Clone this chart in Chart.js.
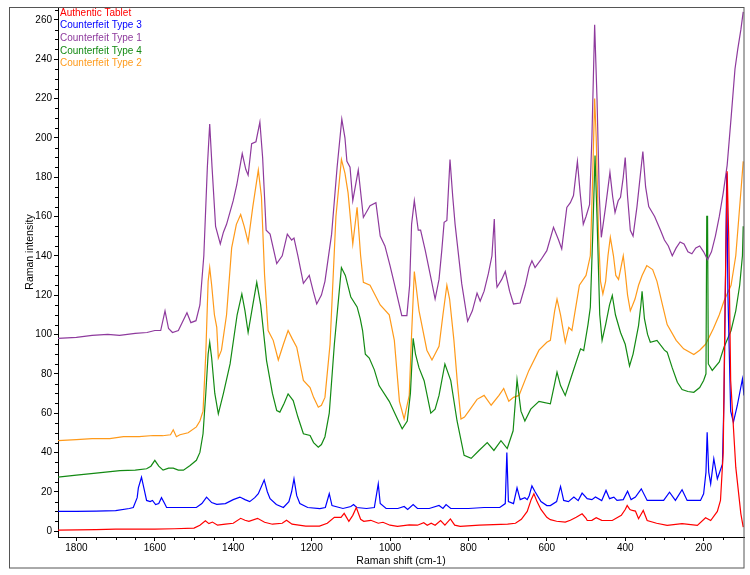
<!DOCTYPE html>
<html>
<head>
<meta charset="utf-8">
<script src="https://cdn.jsdelivr.net/npm/chart.js@4"></script>
<style>
html, body { margin: 0; padding: 0; background: #fff; }
#wrap { width: 750px; height: 575px; position: relative; }
</style>
</head>
<body>
<div id="wrap"><canvas id="raman_chart"></canvas></div>
<script>
// spectra as [Raman shift (cm-1), intensity]
const authentic = [
    [1847, 0.5], [1750, 0.8], [1700, 1], [1600, 1], [1550, 1.2], [1500, 1.5], [1485, 3], [1471, 5.2],
    [1462, 3.8], [1453, 4.6], [1440, 3], [1420, 3.5], [1400, 4], [1381, 6.5], [1370, 5.5], [1360, 5],
    [1338, 6.5], [1320, 4.5], [1300, 3.5], [1275, 4], [1264, 5.5], [1250, 3.5], [1215, 2.5], [1180, 2.5],
    [1160, 4], [1142, 7], [1125, 7], [1117, 9], [1105, 5], [1095, 8], [1086, 12], [1075, 6], [1067, 5],
    [1049, 5.5], [1030, 4], [1018, 4.5], [1000, 3], [981, 2.4], [951, 3.2], [930, 3], [914, 4.3], [905, 3],
    [895, 4], [885, 3], [871, 5.4], [860, 3], [846, 6.2], [835, 3], [821, 2.4], [772, 3], [700, 3.5],
    [680, 4], [665, 6], [650, 10], [640, 16], [633, 19], [625, 15], [615, 11], [600, 7], [591, 5.8],
    [575, 5], [553, 4.6], [540, 5.5], [525, 7], [510, 8.8], [500, 6.5], [497, 5.4], [485, 5.5], [474, 6.8],
    [460, 5.5], [433, 5.4], [410, 8], [400, 11], [395, 13], [388, 11], [382, 10.5], [374, 10.2], [366, 6.3],
    [354, 10.5], [344, 5.4], [320, 4], [293, 2.9], [255, 3.8], [216, 2.9], [195, 6.8], [182, 5.4], [165, 10],
    [157, 15.6], [150, 40], [145, 120], [140, 183], [136, 150], [131, 76.6], [118, 32.5], [105, 8.8], [99, 2]
];

const type3 = [
    [1847, 10], [1800, 10], [1750, 10.2], [1700, 10.4], [1665, 11.5], [1655, 12], [1645, 17], [1642, 22],
    [1634, 27.4], [1628, 22], [1621, 15.6], [1612, 15], [1606, 15.6], [1598, 13.5], [1590, 14], [1583, 17],
    [1575, 14], [1570, 12], [1530, 12], [1494, 12], [1480, 14], [1468, 17.3], [1455, 14.5], [1442, 13.6],
    [1420, 14], [1400, 16], [1383, 17.3], [1370, 16], [1358, 15], [1345, 17], [1336, 19], [1321, 26],
    [1313, 20], [1306, 16.5], [1290, 13.5], [1272, 12], [1258, 15], [1251, 20], [1245, 26.6], [1238, 18],
    [1230, 14], [1210, 12], [1179, 11.4], [1165, 12], [1155, 19], [1148, 13], [1120, 11.5], [1100, 12.5],
    [1093, 13.5], [1085, 12], [1060, 11.5], [1040, 12], [1030, 24], [1025, 14], [1010, 11.5], [980, 11.5],
    [964, 12.5], [955, 11], [941, 13.5], [930, 11.5], [900, 11.5], [875, 13], [865, 11.5], [857, 13.5],
    [845, 11.5], [800, 11.5], [760, 12], [720, 12], [706, 14], [702, 40], [698, 15], [685, 14], [676, 22],
    [668, 16], [656, 17], [650, 16], [645, 18], [638, 23], [630, 20], [615, 15], [600, 13], [591, 13],
    [575, 15], [565, 22.7], [557, 15.6], [545, 15], [531, 17.3], [520, 15.5], [510, 19.3], [497, 16.5],
    [485, 16], [476, 17.3], [460, 15.5], [449, 20.7], [440, 16.5], [429, 17.3], [421, 15.6], [405, 16],
    [394, 20.3], [385, 16], [374, 17.3], [359, 21.5], [344, 15.6], [320, 15.6], [302, 15.6], [287, 19.8],
    [272, 15.6], [255, 21], [242, 15.6], [220, 15.6], [208, 15.6], [200, 19], [194, 30], [191, 50.3],
    [187, 30], [182, 24], [174, 36.8], [165, 26.6], [152, 34], [148, 68], [144, 130], [141, 182],
    [138, 120], [131, 61], [124, 55.4], [114, 64], [101, 77.4], [97, 69]
];

const type1 = [
    [1847, 98], [1800, 98.5], [1760, 99.5], [1720, 100], [1690, 99.5], [1650, 100.5], [1620, 101],
    [1600, 102], [1585, 102], [1574, 112], [1565, 103], [1555, 101], [1540, 102], [1518, 111], [1508, 106],
    [1495, 107], [1485, 115], [1475, 140], [1466, 185], [1460, 207], [1454, 185], [1445, 155], [1433, 146],
    [1425, 152], [1417, 156], [1400, 168], [1391, 176], [1377, 192], [1368, 184], [1362, 181], [1353, 197],
    [1342, 198], [1332, 208], [1325, 190], [1316, 153], [1306, 151], [1289, 136], [1275, 140], [1262, 151],
    [1251, 148], [1245, 149], [1235, 140], [1221, 126], [1206, 130], [1196, 122], [1187, 115.5], [1175, 120],
    [1166, 127], [1149, 151], [1135, 185], [1123, 209.5], [1115, 200], [1110, 188], [1102, 185], [1095, 168],
    [1081, 183.6], [1068, 159.5], [1051, 165.5], [1036, 167], [1025, 150], [1013, 145], [1000, 135],
    [991, 127.5], [970, 109.6], [957, 109.6], [950, 125], [945, 156], [938, 168], [928, 153], [922, 153],
    [910, 142.6], [895, 128], [885, 118], [875, 128], [868, 142.6], [862, 157], [855, 158], [847, 189],
    [840, 170], [834, 156], [817, 125.7], [802, 106.7], [790, 112], [778, 121], [770, 117], [760, 122],
    [749, 131], [740, 140], [734, 158.7], [729, 128], [727, 124], [715, 128], [706, 132], [695, 122],
    [685, 115.5], [668, 116], [655, 125], [645, 134], [638, 137.5], [630, 134], [615, 138], [600, 142.6],
    [583, 154.5], [570, 148], [562, 143.5], [549, 164.6], [540, 167], [532, 170.6], [522, 188], [515, 172],
    [507, 156], [500, 160], [491, 166], [485, 200], [478, 257.5], [472, 220], [466, 170], [461, 149.4],
    [450, 165], [439, 182.4], [432, 170], [426, 162], [418, 168], [412, 169.7], [405, 180], [400, 190],
    [394, 170], [387, 153], [380, 150], [370, 165], [362, 180], [355, 193], [348, 175], [340, 165],
    [325, 160], [310, 153], [300, 148], [290, 145], [280, 140], [270, 144], [260, 147], [250, 146],
    [240, 142], [230, 141], [220, 144], [210, 145], [200, 142], [190, 138], [180, 142], [170, 150],
    [160, 160], [150, 172], [140, 186], [130, 210], [120, 235], [113, 245], [105, 255], [99, 264]
];

const type4 = [
    [1847, 27.4], [1800, 28.5], [1750, 29.5], [1689, 30.8], [1650, 31], [1621, 31.7], [1610, 33], [1600, 36],
    [1590, 33], [1579, 31], [1565, 32], [1553, 32], [1540, 31], [1527, 31], [1510, 33.4], [1494, 36],
    [1485, 40], [1477, 49.5], [1470, 70], [1464, 90], [1460, 96], [1455, 88], [1447, 70], [1438, 59.6],
    [1425, 70], [1408, 85], [1390, 110], [1378, 120.6], [1370, 112], [1362, 101], [1350, 115], [1340, 126.5],
    [1330, 115], [1315, 86.7], [1300, 70], [1289, 61.3], [1281, 60.5], [1270, 65], [1260, 69.8], [1247, 66.4],
    [1235, 58], [1221, 49.5], [1204, 48.6], [1195, 45], [1183, 42.7], [1175, 44], [1166, 48], [1155, 60],
    [1142, 95], [1124, 134], [1114, 130], [1100, 119], [1084, 114], [1076, 108], [1070, 102], [1063, 90],
    [1053, 88], [1040, 82], [1028, 74], [1002, 66], [981, 57], [969, 52], [956, 56], [948, 70], [941, 98],
    [935, 90], [926, 83], [913, 76.5], [896, 60], [885, 62], [875, 69], [860, 85], [845, 76.5], [829, 56],
    [811, 38.5], [793, 37], [773, 41], [752, 45], [735, 41], [717, 46], [701, 42], [686, 51], [676, 77],
    [666, 61], [656, 56], [641, 62], [620, 66], [591, 64.7], [580, 75], [574, 80.8], [565, 74], [553, 69],
    [535, 80], [514, 92.7], [506, 91.8], [495, 105], [489, 113.8], [483, 150], [477, 191], [472, 160],
    [465, 110], [459, 97], [450, 105], [440, 115], [433, 119.8], [425, 110], [412, 101], [400, 95],
    [389, 84], [380, 90], [366, 104.5], [360, 115], [357, 122], [351, 108], [343, 100], [336, 96],
    [319, 97], [300, 92], [293, 91], [280, 83], [267, 75.7], [255, 72], [240, 71], [225, 70.6], [210, 73],
    [200, 76.6], [194, 80], [192, 160], [190, 160], [188, 85], [178, 81.7], [160, 86], [148, 93.5],
    [130, 102], [118, 112], [108, 125], [101, 140], [99, 155]
];

const type2 = [
    [1847, 46], [1800, 46.5], [1760, 47], [1715, 47], [1680, 48], [1640, 48], [1604, 48.6], [1580, 48.5],
    [1560, 49], [1553, 51.5], [1545, 48], [1536, 49], [1515, 50], [1494, 53], [1485, 56], [1477, 61],
    [1470, 90], [1464, 127], [1460, 134], [1455, 125], [1448, 110], [1442, 103.6], [1438, 88], [1430, 92],
    [1417, 110], [1404, 144], [1392, 156], [1381, 161], [1372, 155], [1362, 147], [1350, 165], [1336, 183.6],
    [1328, 170], [1320, 130], [1311, 102], [1298, 97], [1285, 87], [1272, 95], [1260, 102], [1250, 98],
    [1238, 93.5], [1221, 76.6], [1204, 73], [1195, 68], [1183, 63], [1175, 64], [1166, 68], [1153, 95],
    [1138, 160], [1124, 189], [1115, 182], [1107, 172], [1095, 146], [1084, 164.6], [1075, 140],
    [1068, 126.5], [1051, 125], [1025, 115], [1002, 110], [989, 97], [976, 66], [964, 57], [951, 69],
    [945, 100], [938, 132], [926, 112], [906, 92], [893, 87], [875, 94], [865, 110], [855, 125], [848, 118],
    [837, 97], [828, 75], [819, 57], [810, 58], [799, 61], [778, 67], [760, 69], [742, 64], [722, 69],
    [710, 72.5], [697, 66], [685, 68], [671, 69], [646, 81.6], [620, 92], [600, 96], [591, 97], [580, 112],
    [574, 118], [565, 110], [553, 96], [544, 103.6], [536, 102], [517, 125], [500, 130], [489, 140],
    [483, 180], [478, 220], [474, 200], [468, 150], [463, 127], [457, 120.6], [450, 127], [444, 140],
    [438, 149.4], [430, 140], [424, 130], [417, 128], [405, 140], [400, 131.6], [394, 120], [387, 112],
    [375, 118], [366, 125], [357, 130], [345, 135], [330, 133], [319, 127], [305, 115], [293, 105],
    [270, 97], [251, 92.7], [225, 89.8], [210, 92], [195, 95], [175, 103], [160, 110], [148, 117],
    [130, 125], [118, 140], [110, 160], [104, 175], [99, 188]
];

const seriesNames = ["Authentic Tablet", "Counterfeit Type 3", "Counterfeit Type 1", "Counterfeit Type 4", "Counterfeit Type 2"];
const seriesColors = ["#ff0000", "#0000ff", "#8e3a9d", "#138a13", "#ff9a1a"];
const seriesData = [authentic, type3, type1, type4, type2];

const xTickValues = [200, 400, 600, 800, 1000, 1200, 1400, 1600, 1800];
const yTickValues = [0, 20, 40, 60, 80, 100, 120, 140, 160, 180, 200, 220, 240, 260];

const FONT = "'Liberation Sans', Arial, sans-serif";

// minor ticks, titles, legend text and the outer frame
const decorPlugin = {
    id: "decor",
    afterDraw(chart) {
        const ctx = chart.ctx;
        const area = chart.chartArea;
        const xs = chart.scales.x;
        const ys = chart.scales.y;
        ctx.save();
        ctx.strokeStyle = "#000";
        ctx.lineWidth = 1;
        ctx.beginPath();
        for (let v = 150; v <= 1800; v += 50) {
            if (v % 200 === 0) continue;
            const px = Math.round(xs.getPixelForValue(v)) + 0.5;
            ctx.moveTo(px, area.bottom);
            ctx.lineTo(px, area.bottom + 3);
        }
        for (let v = 5; v <= 265; v += 5) {
            if (v % 20 === 0) continue;
            const py = Math.round(ys.getPixelForValue(v)) + 0.5;
            ctx.moveTo(area.left, py);
            ctx.lineTo(area.left - 3, py);
        }
        ctx.stroke();

        // outer frame
        ctx.strokeStyle = "#555";
        ctx.strokeRect(9.5, 7.5, 734.5, 560.5);

        // y title
        ctx.fillStyle = "#000";
        ctx.font = "10.5px " + FONT;
        ctx.textAlign = "center";
        ctx.textBaseline = "middle";
        ctx.save();
        ctx.translate(30, 252);
        ctx.rotate(-Math.PI / 2);
        ctx.fillText("Raman intensity", 0, 0);
        ctx.restore();

        // legend
        ctx.font = "10px " + FONT;
        ctx.textAlign = "left";
        seriesNames.forEach((name, i) => {
            ctx.fillStyle = seriesColors[i];
            ctx.fillText(name, area.left + 2, 13 + i * 12.6);
        });
        ctx.restore();
    },
    beforeDraw(chart) {
        const ctx = chart.ctx;
        ctx.save();
        ctx.fillStyle = "#fff";
        ctx.fillRect(0, 0, chart.width, chart.height);
        ctx.restore();
    }
};

const datasets = seriesData.map((spec, i) => ({
    label: seriesNames[i],
    data: spec.map(p => ({ x: p[0], y: p[1] })),
    borderColor: seriesColors[i],
    backgroundColor: seriesColors[i],
    borderWidth: 1.2,
    pointRadius: 0,
    tension: 0,
    fill: false,
}));

const raman_config = {
    type: "line",
    data: { datasets },
    options: {
        responsive: true,
        maintainAspectRatio: false,
        animation: false,
        devicePixelRatio: 1,
        layout: { padding: { left: 0, right: 6, top: 7, bottom: 0 } },
        plugins: { legend: { display: false }, tooltip: { enabled: false } },
        scales: {
            x: {
                type: "linear",
                reverse: true,
                min: 97,
                max: 1847,
                afterBuildTicks: s => { s.ticks = xTickValues.map(v => ({ value: v })); },
                afterFit: s => { s.height = 38; },
                ticks: { color: "#000", font: { family: FONT, size: 10 }, padding: 1, maxRotation: 0, autoSkip: false, callback: v => String(v) },
                grid: { drawOnChartArea: false, tickLength: 4, color: "#000" },
                border: { color: "#000", width: 1 },
                title: { display: true, text: "Raman shift (cm-1)", color: "#000", font: { family: FONT, size: 10.5 }, padding: { top: 0, bottom: 8 } },
            },
            y: {
                type: "linear",
                min: -3,
                max: 266,
                afterBuildTicks: s => { s.ticks = yTickValues.map(v => ({ value: v })); },
                afterFit: s => { s.width = 58; },
                ticks: { color: "#000", font: { family: FONT, size: 10 }, padding: 2, callback: v => String(v) },
                grid: { drawOnChartArea: false, tickLength: 4, color: "#000" },
                border: { color: "#000", width: 1 },
            },
        },
    },
    plugins: [decorPlugin],
};

const raman_chart = new Chart(document.getElementById("raman_chart"), raman_config);
</script>
</body>
</html>
